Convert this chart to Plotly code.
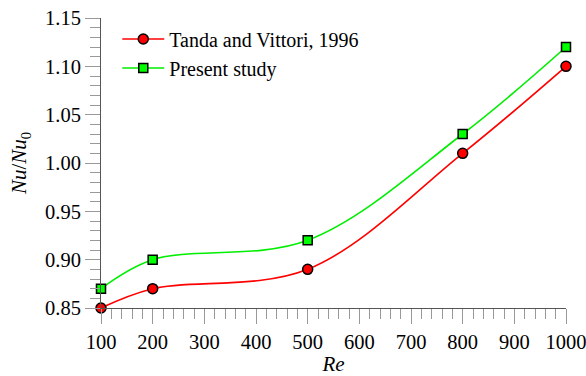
import plotly.graph_objects as go

re_vals = [100, 200, 500, 800, 1000]
tanda_vittori = [0.85, 0.87, 0.89, 1.01, 1.10]
present_study = [0.87, 0.90, 0.92, 1.03, 1.12]

FONT = "Liberation Serif"

fig = go.Figure()
fig.add_trace(go.Scatter(
    x=re_vals, y=tanda_vittori, mode="lines+markers",
    name="Tanda and Vittori, 1996",
    line=dict(color="#ff0000", width=1.6, shape="spline", smoothing=1),
    marker=dict(symbol="circle", size=10, color="#ff0000",
                line=dict(color="black", width=1.5)),
    cliponaxis=False,
))
fig.add_trace(go.Scatter(
    x=re_vals, y=present_study, mode="lines+markers",
    name="Present study",
    line=dict(color="#00ee00", width=1.6, shape="spline", smoothing=1),
    marker=dict(symbol="square", size=9, color="#00ff00",
                line=dict(color="black", width=1.5)),
    cliponaxis=False,
))

axis_common = dict(
    showgrid=False, zeroline=False, showline=True, automargin=False,
    linecolor="#555555", linewidth=1,
    ticks="outside", ticklen=15, tickcolor="#999999", tickwidth=1,
    tickfont=dict(family=FONT, size=20.5, color="black"),
    ticklabeloverflow="allow",
)

fig.update_xaxes(
    range=[100, 1000], dtick=100, tick0=100,
    minor=dict(dtick=20, ticks="outside", ticklen=10, tickcolor="#999999", tickwidth=1),
    title=dict(text="<i>Re</i>", font=dict(family=FONT, size=21, color="black"), standoff=8),
    **axis_common,
)
fig.update_yaxes(
    range=[0.85, 1.15], dtick=0.05, tick0=0.85, tickformat=".2f",
    minor=dict(dtick=0.01, ticks="outside", ticklen=10, tickcolor="#999999", tickwidth=1),
    title=dict(text="<i>Nu</i>/<i>Nu</i><sub>0</sub>", font=dict(family=FONT, size=21, color="black"), standoff=12),
    **axis_common,
)

fig.update_layout(
    width=586, height=376,
    margin=dict(l=101, r=20, t=18, b=68),
    plot_bgcolor="white", paper_bgcolor="white",
    font=dict(family=FONT, size=20, color="black"),
    legend=dict(x=0.035, y=0.995, xanchor="left", yanchor="top",
                bgcolor="rgba(0,0,0,0)", font=dict(family=FONT, size=20),
                tracegroupgap=0, itemwidth=42),
    showlegend=True,
)

fig.write_html("out.html")
